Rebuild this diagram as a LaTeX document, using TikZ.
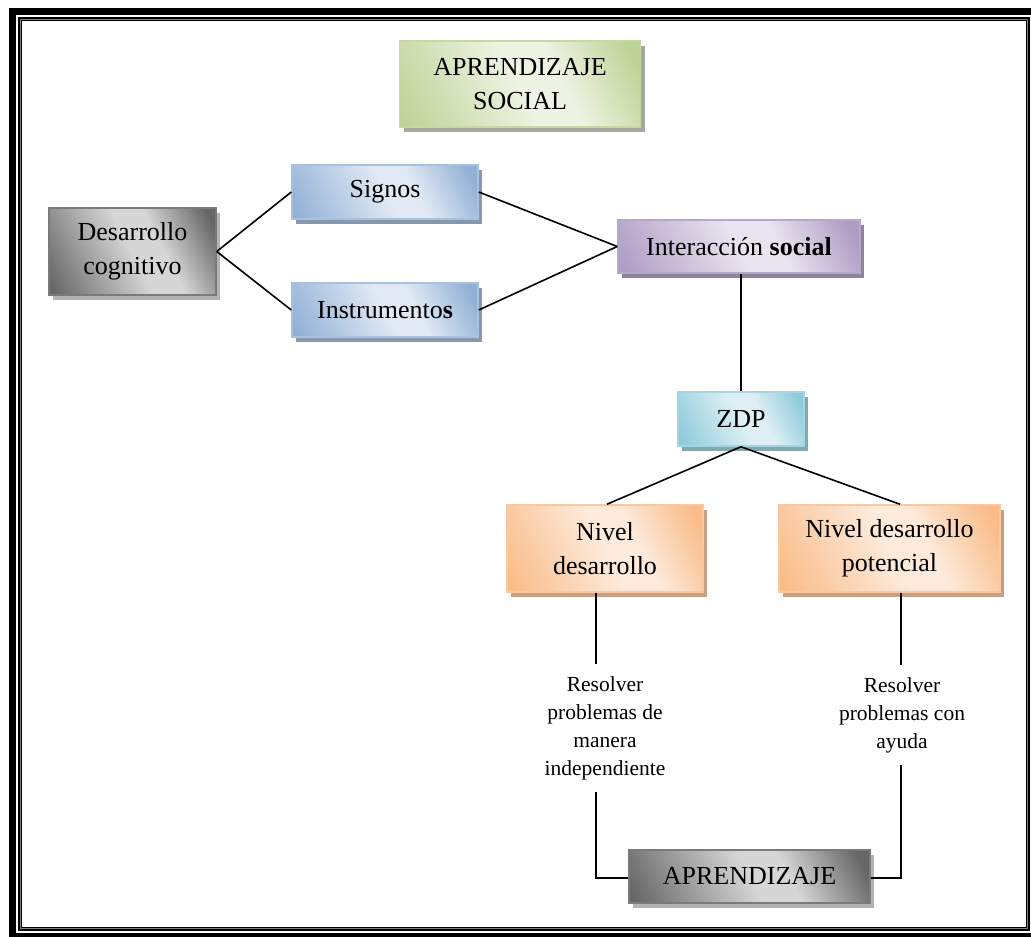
\documentclass[tikz,border=0pt]{standalone}
\usepackage{fontspec}
\setmainfont{Liberation Serif}
\usetikzlibrary{shadows}
% colours
\definecolor{gD}{HTML}{BFD396}\definecolor{gL}{HTML}{EEF3E3}\definecolor{gB}{HTML}{C6D9A4}\definecolor{gS}{HTML}{A3A89A}
\definecolor{kD}{HTML}{666666}\definecolor{kL}{HTML}{D6D6D6}\definecolor{kB}{HTML}{7A7A7A}\definecolor{kS}{HTML}{B3B3B3}
\definecolor{bD}{HTML}{91B0D6}\definecolor{bL}{HTML}{E0E9F4}\definecolor{bB}{HTML}{A8C1DE}\definecolor{bS}{HTML}{8797AD}
\definecolor{pD}{HTML}{AF9DC5}\definecolor{pL}{HTML}{E9E4EF}\definecolor{pB}{HTML}{B7A7CA}\definecolor{pS}{HTML}{8E8599}
\definecolor{tD}{HTML}{8DCADB}\definecolor{tL}{HTML}{DDEFF4}\definecolor{tB}{HTML}{A3D5E2}\definecolor{tS}{HTML}{85A8B0}
\definecolor{oD}{HTML}{F9BC88}\definecolor{oL}{HTML}{FDEADB}\definecolor{oB}{HTML}{FAC79E}\definecolor{oS}{HTML}{C6A083}
% shadings
\pgfdeclarehorizontalshading{shgreen}{100bp}{color(0bp)=(gD); color(18bp)=(gD); color(50bp)=(gL); color(60bp)=(gL); color(80bp)=(gD); color(100bp)=(gD)}
\pgfdeclarehorizontalshading{shgray}{100bp}{color(0bp)=(kD); color(18bp)=(kD); color(50bp)=(kL); color(60bp)=(kL); color(80bp)=(kD); color(100bp)=(kD)}
\pgfdeclarehorizontalshading{shblue}{100bp}{color(0bp)=(bD); color(18bp)=(bD); color(50bp)=(bL); color(60bp)=(bL); color(80bp)=(bD); color(100bp)=(bD)}
\pgfdeclarehorizontalshading{shpurple}{100bp}{color(0bp)=(pD); color(18bp)=(pD); color(50bp)=(pL); color(60bp)=(pL); color(80bp)=(pD); color(100bp)=(pD)}
\pgfdeclarehorizontalshading{shteal}{100bp}{color(0bp)=(tD); color(18bp)=(tD); color(50bp)=(tL); color(60bp)=(tL); color(80bp)=(tD); color(100bp)=(tD)}
\pgfdeclarehorizontalshading{shorange}{100bp}{color(0bp)=(oD); color(18bp)=(oD); color(50bp)=(oL); color(60bp)=(oL); color(80bp)=(oD); color(100bp)=(oD)}
\tikzset{
  bx/.style={rectangle, inner sep=0pt, align=center, line width=1.5pt,
    font=\fontsize{26}{34}\selectfont, shade, shading angle=27},
  gbox/.style={bx, draw=gB, shading=shgreen, drop shadow={shadow xshift=4pt, shadow yshift=-5pt, fill=gS, opacity=1}},
  kbox/.style={bx, draw=kB, shading=shgray, drop shadow={shadow xshift=4pt, shadow yshift=-5pt, fill=kS, opacity=1}},
  bbox/.style={bx, draw=bB, shading=shblue, drop shadow={shadow xshift=4pt, shadow yshift=-5pt, fill=bS, opacity=1}},
  pbox/.style={bx, draw=pB, shading=shpurple, drop shadow={shadow xshift=4pt, shadow yshift=-5pt, fill=pS, opacity=1}},
  tbox/.style={bx, draw=tB, shading=shteal, drop shadow={shadow xshift=4pt, shadow yshift=-5pt, fill=tS, opacity=1}},
  obox/.style={bx, draw=oB, shading=shorange, drop shadow={shadow xshift=4pt, shadow yshift=-5pt, fill=oS, opacity=1}},
  note/.style={align=center, inner xsep=0pt, inner ysep=12pt, font=\fontsize{21.5}{28}\selectfont},
  conn/.style={line width=1.6pt, black},
}
\begin{document}
\begin{tikzpicture}[x=1pt,y=-1pt]
\useasboundingbox (0,0) rectangle (1031,937);
\fill[white] (0,0) rectangle (1031,937);
% frame
\begin{scope}
\clip (0,0) rectangle (1031,937);
\draw[line width=7pt] (12,11) rectangle (1040,936);
\end{scope}
\draw[line width=4pt] (20,19) rectangle (1028,929);
\draw[gray, line width=0.8pt] (20.5,19.5) rectangle (1027.5,928.5);
% boxes
\node[gbox, minimum width=241pt, minimum height=86pt] (soc) at (520,84) {APRENDIZAJE\\SOCIAL};
\node[kbox, minimum width=167pt, minimum height=87pt] (dc) at (132.5,251.5) {Desarrollo\\cognitivo};
\node[bbox, minimum width=186pt, minimum height=54pt] (sig) at (385,192) {Signos};
\node[bbox, minimum width=186pt, minimum height=54pt] (ins) at (385,310) {Instrumento\textbf{s}};
\node[pbox, minimum width=242pt, minimum height=53pt] (inter) at (739,246.5) {Interacción \textbf{social}};
\node[tbox, minimum width=126pt, minimum height=54pt] (zdp) at (741,419) {ZDP};
\node[obox, minimum width=196pt, minimum height=87pt] (nd) at (605,548.5) {Nivel\\desarrollo};
\node[obox, minimum width=221pt, minimum height=87pt] (np) at (889.5,548.5) {Nivel desarrollo\\potencial};
\node[kbox, minimum width=241pt, minimum height=53pt] (ap) at (749.5,876.5) {APRENDIZAJE};
% notes
\node[note] (t1) at (605,728) {Resolver\\problemas de\\manera\\independiente};
\node[note] (t2) at (902,715) {Resolver\\problemas con\\ayuda};
% connectors
\draw[conn] (dc.east) -- (sig.west);
\draw[conn] (dc.east) -- (ins.west);
\draw[conn] (sig.east) -- (inter.west);
\draw[conn] (ins.east) -- (inter.west);
\draw[conn] (zdp.north |- inter.south) -- (zdp.north);
\draw[conn] (zdp.south) -- ([xshift=2pt]nd.north);
\draw[conn] (zdp.south) -- ([xshift=10.5pt]np.north);
\draw[conn] ([xshift=-9pt]nd.south) -- ([xshift=-9pt]t1.north);
\draw[conn] ([xshift=-9pt]t1.south) |- ([yshift=-1.5pt]ap.west);
\draw[conn] ([xshift=11.5pt]np.south) -- ([xshift=-1pt]t2.north);
\draw[conn] ([xshift=-1pt]t2.south) |- ([yshift=-1.5pt]ap.east);
\end{tikzpicture}
\end{document}
